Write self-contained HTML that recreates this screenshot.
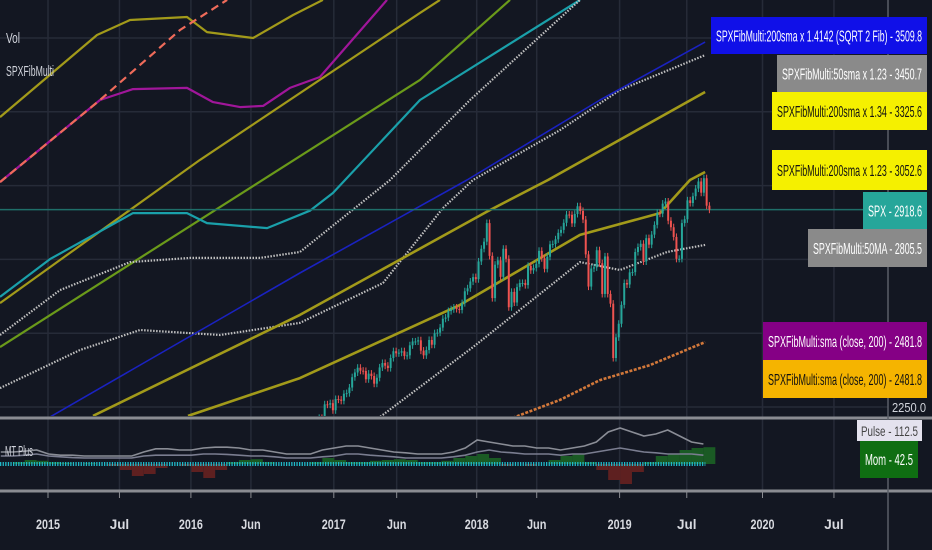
<!DOCTYPE html>
<html><head><meta charset="utf-8"><style>
html,body{margin:0;padding:0;background:#131722;}
svg{display:block;font-family:"Liberation Sans",sans-serif;}
</style></head><body>
<svg id="chart" width="932" height="550" viewBox="0 0 932 550" xmlns="http://www.w3.org/2000/svg">
<rect x="0" y="0" width="932" height="550" fill="#131722"/>
<defs><clipPath id="mainClip"><rect x="0" y="0" width="888" height="416"/></clipPath>
<clipPath id="lowClip"><rect x="0" y="420" width="888" height="70"/></clipPath></defs>
<g id="grid"></g>
<g id="main" clip-path="url(#mainClip)"></g>
<g id="low" clip-path="url(#lowClip)"></g>
<g id="axes"></g>
<g id="labels"></g>
<text x="6" y="43" fill="#d1d4dc" font-size="15" textLength="14" lengthAdjust="spacingAndGlyphs">Vol</text>
<text x="6" y="76" fill="#d1d4dc" font-size="15" textLength="48" lengthAdjust="spacingAndGlyphs">SPXFibMulti</text>
<text x="5" y="456" fill="#d1d4dc" font-size="15" textLength="28" lengthAdjust="spacingAndGlyphs">MT Plus</text>
</svg>
<script>
// ---- data ----
const timeTickLabels = ["2015","Jul","2016","Jun","2017","Jun","2018","Jun","2019","Jul","2020","Jul"];
const timeTickYears = [2015,2015.5,2016,2016.42,2017,2017.44,2018,2018.42,2019,2019.47,2020,2020.5];
const priceTicks = [2250,2500,2750,3000,3250,3500];
const spxStart = 2016.84;
const spxCloses = [2085,2164,2182,2213,2191,2259,2258,2263,2239,
2277,2275,2271,2295,2297,2316,2351,2367,2383,2373,2372,2344,2363,2355,2329,2349,2384,2399,2390,2382,2416,2439,2432,2434,2439,2423,2425,2459,2472,2472,2476,2441,2425,2443,2477,2461,2500,2502,2519,2549,2553,2575,2581,2587,2582,2579,2602,2642,2652,2675,2690,2683,
2743,2786,2810,2873,2762,2619,2732,2747,2691,2786,2752,2588,2640,2604,2656,2670,2670,2663,2728,2713,2721,2735,2779,2754,2718,2759,2801,2802,2818,2840,2850,2874,2902,2901,2872,2904,2930,2914,2885,2767,2658,2719,2723,2781,2737,2633,2760,2633,2600,2416,2486,
2532,2596,2670,2665,2706,2707,2775,2792,2803,2743,2822,2800,2834,2867,2907,2905,2939,2946,2881,2859,2826,2752,2752,2873,2886,2950,2941,2964,2990,3014,2976,3025,2932,2918.6];
const sma200 = [[2018.0,2150],[2018.268,2216],[2018.583,2274],[2018.863,2341],[2019.213,2392],[2019.598,2470]];
const ma50 = [[2017.2,2180],[2017.323,2216],[2017.974,2453],[2018.723,2741],[2019.003,2714],[2019.332,2775],[2019.598,2799]];
const fib123 = [[2015.98,2220],[2016.763,2348],[2017.883,2596],[2018.723,2833],[2019.283,2907],[2019.493,3019],[2019.598,3046]];
const fib134 = [[2015.315,2220],[2016.763,2562],[2018.072,2912],[2018.499,3019],[2019.598,3317]];
const ma50x123 = [[2014.664,2314],[2015.224,2443],[2015.644,2511],[2016.204,2494],[2016.763,2535],[2017.344,2670],[2017.764,2924],[2017.974,3019],[2018.583,3188],[2019.003,3324],[2019.598,3442]];
const ma50x141 = [[2014.664,2494],[2015.084,2646],[2015.574,2741],[2015.994,2755],[2016.484,2755],[2016.763,2775],[2017.393,3019],[2017.953,3290],[2018.723,3629]];
const fib1414 = [[2015.014,2216],[2016.763,2704],[2017.932,3019],[2018.863,3290],[2019.598,3486]];
const tealLine = [[2014.664,2623],[2015.014,2751],[2015.595,2907],[2015.973,2907],[2016.113,2873],[2016.533,2856],[2016.833,2915],[2016.994,2975],[2017.603,3290],[2018.723,3629]];
const greenLine = [[2014.664,2453],[2015.644,2755],[2017.603,3358],[2018.233,3629]];
const oliveLine = [[2014.664,2602],[2015.084,2748],[2016.064,3087],[2017.603,3585],[2017.743,3629]];
const oliveTop = [[2014.664,3232],[2015.343,3510],[2015.574,3561],[2015.973,3571],[2016.113,3520],[2016.435,3500],[2016.715,3578],[2016.924,3629]];
const magentaLine = [[2014.664,3012],[2015.364,3290],[2015.595,3327],[2015.973,3331],[2016.155,3283],[2016.344,3266],[2016.505,3270],[2016.693,3331],[2016.903,3368],[2017.372,3629]];
const salmonLine = [[2014.664,3012],[2015.364,3290],[2015.924,3527],[2016.253,3629]];
const spxLast = 2918.6;
const lowStart = 2014.67;
const momValues = [0,5,10,8, 5,3,0,2,0,-5,-15,-30,-25,-10,0,-5, -20,-35,-15,5,10,12,5,0,0,0,5,15, 10,5,5,8,10,12,10,5,5,8,15,20, 25,15,-5,0,-5,0,10,20,25,5,-15,-40, -50,-20,5,20,25,35,40,42];
const pulseA = [30,30,32,35, 25,22,22,20,20,20,20,20,30,38,38,35, 35,40,42,42,40,35,35,30,25,25,25,35, 40,45,45,40,35,30,28,25,25,25,30,40, 60,55,50,45,45,40,40,35,40,45,55,80, 90,80,70,75,85,70,55,50];
const pulseB = [20,20,22,25, 20,18,16,15,15,15,15,15,20,22,22,22, 22,25,25,24,22,20,20,18,15,15,15,18, 20,25,25,22,20,18,15,15,15,15,18,22, 30,35,30,28,25,25,25,22,25,25,30,35, 40,35,30,28,25,25,25,22];
const priceLabels = ["SPXFibMulti:200sma x 1.4142 (SQRT 2 Fib) - 3509.8","SPXFibMulti:50sma x 1.23 - 3450.7","SPXFibMulti:200sma x 1.34 - 3325.6","SPXFibMulti:200sma x 1.23 - 3052.6","SPX - 2918.6","SPXFibMulti:50MA - 2805.5","SPXFibMulti:sma (close, 200) - 2481.8","SPXFibMulti:sma (close, 200) - 2481.8"];

// ---- scales ----
const X = yr => 48 + (yr - 2015) * 142.9;
const Y = p => 407 - (p - 2250) * 0.2952;
const LY = v => 464 - v * 0.4;
const NS = "http://www.w3.org/2000/svg";
function mk(tag, attrs, parent){const e=document.createElementNS(NS,tag);for(const k in attrs)e.setAttribute(k,attrs[k]);parent.appendChild(e);return e;}
const grid=document.getElementById('grid'), main=document.getElementById('main'), low=document.getElementById('low'), axes=document.getElementById('axes'), labels=document.getElementById('labels');

// grid
priceTicks.forEach(p=>{const l=mk('line',{x1:0,x2:888,y1:Y(p),y2:Y(p),stroke:'#262b38','stroke-width':1.5},grid);

});
timeTickYears.forEach(t=>{const l=mk('line',{x1:X(t),x2:X(t),y1:0,y2:491,stroke:'#262b38','stroke-width':1.5},grid);

});

// overlay lines
function line(pts,color,name,dash,w){const d=pts.map(p=>X(p[0]).toFixed(1)+','+Y(p[1]).toFixed(1)).join(' ');
const e=mk('polyline',{points:d,fill:'none',stroke:color,'stroke-width':w||2.2,'stroke-dasharray':dash||'none','stroke-linejoin':'round'},main);

}
line(oliveTop,'#a29a1a','olive-top-line');
line(magentaLine,'#a0169a','magenta-line');
line(salmonLine,'#ef6b5a','salmon-dashed-line','8 5');
line(oliveLine,'#a29a1a','olive-line');
line(greenLine,'#6a9a1a','green-line');
line(tealLine,'#1aa0aa','teal-line');
line(ma50x141,'#c0c0c0','gray-dotted-upper-line','1.5 1.5');
line(ma50x123,'#c0c0c0','ma50-x123-line','1.5 1.5');
line(fib1414,'#1a22c0','fib-1414-line',null,1.6);
line(fib134,'#a29a1a','fib-134-line',null,2.6);
line(fib123,'#a29a1a','fib-123-line',null,2.6);
line(ma50,'#c0c0c0','ma50-line','1.5 1.5');
line(sma200,'#d2783a','sma200-line','3 1.5',2.6);
const hl=mk('line',{x1:0,x2:888,y1:Y(spxLast),y2:Y(spxLast),stroke:'#1f6f6a','stroke-width':1.5},main);



// candles
let prev=spxCloses[0]-20;
spxCloses.forEach((c,i)=>{const o=prev;prev=c;const x=X(spxStart+i/52);
const up=c>=o, col=up?'#26a69a':'#ef5350';const hi=Math.max(o,c)+12, lo=Math.min(o,c)-12;
const w=mk('line',{x1:x,x2:x,y1:Y(hi),y2:Y(lo),stroke:col,'stroke-width':1},main);


const b=mk('rect',{x:x-1,y:Y(Math.max(o,c)),width:2,height:Math.max(1,Math.abs(Y(o)-Y(c))),fill:col},main);

});

// lower pane
momValues.forEach((v,i)=>{const x=X(lowStart+i/12);const y=LY(v);
const r=mk('rect',{x:x,y:Math.min(y,464),width:11.9,height:Math.abs(y-464),fill:v>=0?'#1a5a24':'#5e2020'},low);

});
function lline(arr,color,name){const d=arr.map((v,i)=>X(lowStart+i/12).toFixed(1)+','+LY(v).toFixed(1)).join(' ');
const e=mk('polyline',{points:d,fill:'none',stroke:color,'stroke-width':1.6},low);

}
lline(pulseA,'#8a8d96','pulse-line-a');
lline(pulseB,'#7a7d90','pulse-line-b');
const bl=mk('line',{x1:0,x2:X(2019.6),y1:464,y2:464,stroke:'#20b8c8','stroke-width':4,'stroke-dasharray':'1.3 1.3'},low);



// separators and axes
[418,491].forEach(y=>{const s=mk('rect',{x:0,y:y-1.5,width:932,height:3,fill:'#8a8c92'},axes);

});
const va=mk('line',{x1:888,x2:888,y1:0,y2:550,stroke:'#5a5e68','stroke-width':1.5},axes);


timeTickYears.forEach((t,i)=>{const x=X(t);
const tk=mk('line',{x1:x,x2:x,y1:492,y2:498,stroke:'#8a8c92','stroke-width':1},axes);


const tx=mk('text',{x:x,y:529,'text-anchor':'middle',fill:'#d8dae0','font-size':14,'font-weight':'bold',textLength:timeTickLabels[i].length>3?24:(timeTickLabels[i].length*6.5),lengthAdjust:'spacingAndGlyphs'},axes);
tx.textContent=timeTickLabels[i];

});
const t22=mk('text',{x:892,y:412,fill:'#d1d4dc','font-size':13,textLength:34,lengthAdjust:'spacingAndGlyphs'},axes);t22.textContent='2250.0';



// price labels
const boxes=[[711,17,37,'#1010e8','#fff'],[777,55,37,'#8a8a8a','#fff'],[772,92,38,'#f5f000','#111'],[772,150,40,'#f5f000','#111'],[863,192,37,'#26a69a','#fff'],[808,229,38,'#8a8a8a','#fff'],[763,322,38,'#850085','#fff'],[763,360,38,'#f5b400','#111']];
boxes.forEach((b,i)=>{const g=mk('g',{},labels);


mk('rect',{x:b[0],y:b[1],width:927-b[0],height:b[2],fill:b[3]},g);
const t=mk('text',{x:b[0]+5,y:b[1]+b[2]/2+6,fill:b[4],'font-size':16,textLength:927-b[0]-10,lengthAdjust:'spacingAndGlyphs'},g);
t.textContent=priceLabels[i];});
const pg=mk('g',{},labels);


mk('rect',{x:857,y:420,width:65,height:21,fill:'#e4e2ee'},pg);
const pt=mk('text',{x:861,y:436,fill:'#444','font-size':14,textLength:57,lengthAdjust:'spacingAndGlyphs'},pg);pt.textContent='Pulse - 112.5';
const mg=mk('g',{},labels);


mk('rect',{x:860,y:441,width:58,height:37,fill:'#0f6e12'},mg);
const mt=mk('text',{x:865,y:465,fill:'#fff','font-size':16,textLength:48,lengthAdjust:'spacingAndGlyphs'},mg);mt.textContent='Mom - 42.5';
</script>
</body></html>
